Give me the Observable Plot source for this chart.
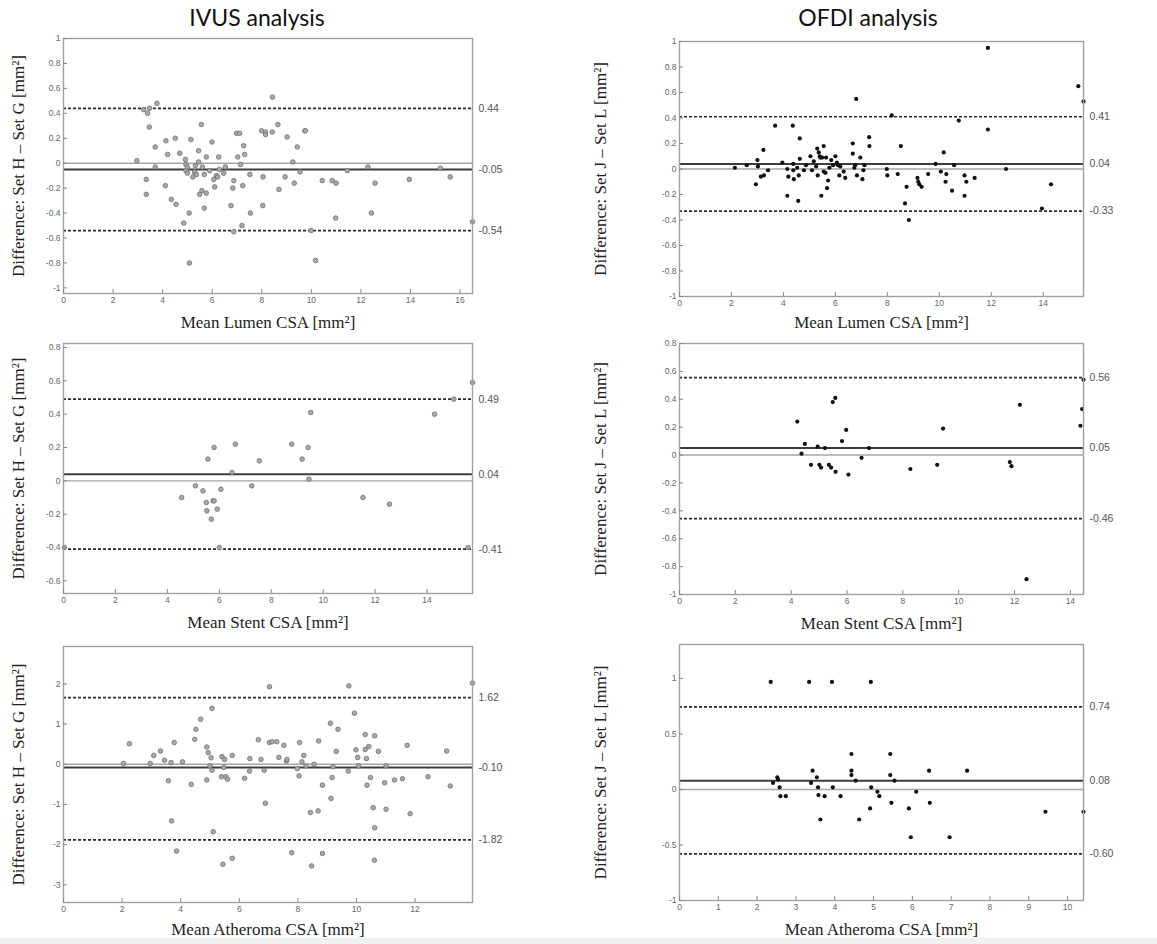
<!DOCTYPE html>
<html><head><meta charset="utf-8">
<script src="https://cdn.jsdelivr.net/npm/d3@7"></script>
<script src="https://cdn.jsdelivr.net/npm/@observablehq/plot@0.6"></script>
<style>
body{margin:0;background:#fff;}
#page{position:relative;width:1157px;height:944px;overflow:hidden;background:#fff;}
.title{position:absolute;font-family:Lato,"Open Sans",sans-serif;font-size:23px;color:#111;transform:translateX(-50%);white-space:nowrap;line-height:1;}
#strip{position:absolute;left:0;top:938px;width:1157px;height:6px;background:#f0f0f0;}
</style></head><body><div id="page">
<div class="title" style="left:257px;top:6px">IVUS analysis</div>
<div class="title" style="left:868px;top:6px">OFDI analysis</div>
<div id="strip"></div>
</div>
<script>
// ---- IVUS lumen ----
const ivusLumenMean = [2.96,3.23,3.39,3.47,3.46,3.77,3.70,3.70,3.34,3.34,4.11,4.13,4.20,4.35,4.51,4.54,4.69,4.85,4.94,4.94,4.92,5.0,5.0,5.07,5.08,5.14,5.22,5.29,5.32,5.36,5.45,5.45,5.49,5.56,5.58,5.60,5.68,5.68,5.76,5.76,5.90,5.99,6.06,6.10,6.17,6.22,6.26,6.29,6.46,6.53,6.76,6.83,6.87,6.87,6.98,7.10,7.03,7.14,7.20,7.23,7.27,7.31,7.52,7.54,7.99,8.15,8.15,8.05,8.04,8.43,8.42,8.65,8.69,8.94,9.02,9.25,9.31,9.43,9.54,9.74,9.76,9.99,10.17,10.44,10.84,11.00,10.98,11.45,12.28,12.42,12.57,13.95,15.2,15.6,16.5];
const ivusLumenDiff = [0.02,0.43,0.40,0.44,0.29,0.48,0.13,-0.03,-0.13,-0.25,-0.18,0.18,0.07,-0.29,0.20,-0.33,0.08,-0.48,-0.01,-0.06,0.03,-0.03,-0.08,-0.40,-0.80,0.19,-0.11,-0.07,-0.02,-0.09,0.10,0.01,-0.25,0.31,-0.22,-0.03,-0.36,-0.09,0.05,-0.24,-0.06,0.17,-0.13,-0.19,-0.10,-0.11,0.05,-0.05,-0.08,-0.03,-0.34,-0.20,-0.14,-0.55,0.24,0.24,0.05,-0.01,-0.50,-0.18,0.14,0.07,-0.09,-0.40,0.26,0.25,0.23,-0.11,-0.34,0.53,0.25,0.31,-0.21,-0.11,0.21,0.01,-0.16,0.13,-0.07,0.26,0.26,-0.54,-0.78,-0.14,-0.14,-0.16,-0.44,-0.06,-0.03,-0.40,-0.16,-0.13,-0.04,-0.11,-0.47];
const ivusLumenLines = [0.44, -0.05, -0.54];
const ivusLumenLabels = ["0.44", "-0.05", "-0.54"];

// ---- OFDI lumen ----
const ofdiLumenMean = [2.13,2.59,2.94,3.00,3.02,3.13,3.23,3.25,3.41,3.68,3.96,4.15,4.15,4.19,4.36,4.38,4.38,4.40,4.53,4.57,4.59,4.63,4.63,4.79,4.87,5.04,5.10,5.17,5.26,5.30,5.32,5.36,5.40,5.42,5.46,5.49,5.55,5.55,5.62,5.64,5.68,5.72,5.77,5.84,5.91,6.00,6.06,6.10,6.15,6.19,6.32,6.38,6.67,6.67,6.73,6.76,6.80,6.83,6.96,7.04,7.08,7.12,7.30,7.31,7.98,8.00,8.17,8.40,8.52,8.68,8.74,8.83,9.16,9.19,9.23,9.32,9.57,9.86,10.06,10.17,10.24,10.27,10.49,10.57,10.75,10.97,10.97,11.04,11.36,11.87,11.87,12.57,13.95,14.3,15.35,15.55];
const ofdiLumenDiff = [0.01,0.03,-0.12,0.07,0.02,-0.06,0.15,-0.05,-0.01,0.34,0.05,-0.21,0.00,-0.06,0.34,0.04,-0.01,-0.08,0.01,-0.25,-0.05,0.24,0.08,-0.01,0.03,0.10,-0.01,0.06,0.02,0.16,-0.05,0.13,0.10,0.09,-0.21,0.09,0.18,-0.02,-0.03,0.09,-0.15,-0.09,0.01,0.07,0.03,0.10,0.05,0.03,-0.05,0.02,-0.02,-0.07,0.20,0.12,0.01,0.03,0.55,-0.05,0.09,-0.08,-0.01,0.03,0.25,0.18,0.00,-0.05,0.42,-0.04,0.18,-0.27,-0.14,-0.40,-0.07,-0.10,-0.12,-0.14,-0.04,0.04,-0.02,0.13,-0.10,-0.04,-0.17,0.03,0.38,-0.05,-0.21,-0.10,-0.07,0.95,0.31,0.00,-0.31,-0.12,0.65,0.53];
const ofdiLumenLines = [0.41, 0.04, -0.33];
const ofdiLumenLabels = ["0.41", "0.04", "-0.33"];

// ---- IVUS stent ----
const ivusStentMean = [0.03,4.55,5.08,5.37,5.50,5.52,5.56,5.69,5.76,5.80,5.80,5.92,6.0,6.06,6.49,6.62,7.25,7.54,8.79,9.19,9.42,9.45,9.52,11.53,12.55,14.29,15.03,15.58,15.75];
const ivusStentDiff = [-0.40,-0.10,-0.03,-0.06,-0.13,-0.18,0.13,-0.23,-0.12,-0.12,0.20,-0.17,-0.40,-0.05,0.05,0.22,-0.03,0.12,0.22,0.13,0.20,0.01,0.41,-0.10,-0.14,0.40,0.49,-0.40,0.59];
const ivusStentLines = [0.49, 0.04, -0.41];
const ivusStentLabels = ["0.49", "0.04", "-0.41"];

// ---- OFDI stent ----
const ofdiStentMean = [4.22,4.37,4.49,4.71,4.95,5.01,5.07,5.21,5.35,5.43,5.49,5.58,5.59,5.82,5.97,6.05,6.52,6.79,8.27,9.23,9.44,11.83,11.89,12.19,12.43,14.36,14.42,14.47];
const ofdiStentDiff = [0.24,0.01,0.08,-0.07,0.06,-0.07,-0.09,0.05,-0.07,-0.09,0.38,0.41,-0.12,0.10,0.18,-0.14,-0.02,0.05,-0.10,-0.07,0.19,-0.05,-0.08,0.36,-0.89,0.21,0.33,0.54];
const ofdiStentLines = [0.555, 0.05, -0.456];
const ofdiStentLabels = ["0.56", "0.05", "-0.46"];

// ---- IVUS atheroma ----
const ivusAthMean = [2.05,2.25,2.96,3.08,3.31,3.45,3.58,3.67,3.69,3.78,3.86,4.06,4.36,4.48,4.52,4.68,4.89,4.89,4.94,5.00,5.04,5.07,5.07,5.11,5.39,5.41,5.44,5.47,5.50,5.54,5.60,5.76,5.76,6.18,6.35,6.36,6.65,6.74,6.85,6.89,7.03,7.03,7.12,7.28,7.35,7.52,7.61,7.63,7.79,7.98,8.04,8.06,8.14,8.20,8.28,8.43,8.47,8.55,8.69,8.71,8.84,8.84,9.11,9.13,9.17,9.20,9.31,9.37,9.72,9.74,9.93,9.98,10.04,10.07,10.30,10.30,10.34,10.36,10.42,10.48,10.57,10.62,10.62,10.61,10.75,10.96,11.01,11.01,11.30,11.57,11.73,11.83,12.44,13.08,13.20,13.96];
const ivusAthDiff = [0.02,0.51,0.02,0.22,0.33,0.10,-0.41,0.04,-1.41,0.54,-2.16,0.06,-0.50,0.62,0.87,1.12,-0.39,0.43,0.29,-0.04,0.16,-0.15,1.39,-1.68,-0.31,0.19,-2.49,-0.08,0.12,-0.31,-0.37,0.22,-2.34,-0.35,-0.17,0.14,0.61,0.12,-0.15,-0.97,1.93,0.54,0.56,0.56,0.17,0.47,0.08,0.12,-2.20,-0.11,-0.29,0.54,0.06,0.22,-0.04,-1.20,-2.53,0.00,-1.16,0.58,-0.52,-2.22,1.02,-0.85,-0.33,-0.06,0.32,0.87,-0.17,1.95,1.27,0.36,0.17,-0.04,0.74,0.37,0.14,-0.52,0.44,-0.33,-1.08,0.71,-1.58,-2.39,0.32,-0.46,-0.04,-1.12,-0.39,-0.36,0.47,-1.23,-0.31,0.33,-0.54,2.02];
const ivusAthLines = [1.66, -0.08, -1.88];
const ivusAthLabels = ["1.62", "-0.10", "-1.82"];

// ---- OFDI atheroma ----
const ofdiAthMean = [2.35,2.41,2.52,2.54,2.58,2.60,2.74,3.34,3.39,3.43,3.54,3.57,3.58,3.63,3.74,3.93,3.95,4.15,4.43,4.43,4.43,4.54,4.63,4.93,4.94,4.91,5.10,5.15,5.43,5.43,5.46,5.54,5.91,5.96,6.10,6.43,6.45,6.96,7.41,9.43,10.41];
const ofdiAthDiff = [0.97,0.06,0.11,0.09,0.02,-0.06,-0.06,0.97,0.06,0.17,0.11,0.02,-0.05,-0.27,-0.06,0.97,0.02,-0.06,0.32,0.17,0.13,0.08,-0.27,0.97,0.02,-0.17,-0.02,-0.06,0.32,0.13,-0.12,0.08,-0.17,-0.43,-0.02,0.17,-0.12,-0.43,0.17,-0.20,-0.20];
const ofdiAthLines = [0.745, 0.08, -0.58];
const ofdiAthLabels = ["0.74", "0.08", "-0.60"];

// ---- tick labels ----
const xTicksLumenIvus = [0,2,4,6,8,10,12,14,16];
const xTicksLumenOfdi = [0,2,4,6,8,10,12,14];
const xTicksStent = [0,2,4,6,8,10,12,14];
const xTicksAthIvus = [0,2,4,6,8,10,12];
const xTicksAthOfdi = [0,1,2,3,4,5,6,7,8,9,10];
const yTicksLumen = [-1,-0.8,-0.6,-0.4,-0.2,0,0.2,0.4,0.6,0.8,1];
const yTicksStentIvus = [-0.6,-0.4,-0.2,0,0.2,0.4,0.6,0.8];
const yTicksStentOfdi = [-1,-0.8,-0.6,-0.4,-0.2,0,0.2,0.4,0.6,0.8];
const yTicksAthIvus = [-3,-2,-1,0,1,2];
const yTicksAthOfdi = [-1,-0.5,0,0.5,1];

const labelIvusY = "Difference: Set H \u2013 Set G [mm\u00B2]";
const labelOfdiY = "Difference: Set J \u2013 Set L [mm\u00B2]";

const page = document.getElementById("page");
const SANS = "'Liberation Sans', Arial, sans-serif";
const SERIF = "'Liberation Serif', 'Times New Roman', serif";

function panel(o) {
  const mL = 90, mR = 60, mT = 10, mB = 45;
  const fw = o.R - o.L, fh = o.B - o.T;
  const data = o.xs.map((x, i) => ({x, y: o.ys[i]}));
  const dotStyle = o.ivus
    ? {r: 2.3, fill: "#a9a9a9", stroke: "#6e6e6e", strokeWidth: 0.8}
    : {r: 2.1, fill: "#111", stroke: "none"};
  const svg = Plot.plot({
    width: fw + mL + mR, height: fh + mT + mB,
    marginLeft: mL, marginRight: mR, marginTop: mT, marginBottom: mB,
    x: {domain: [0, o.xMax]},
    y: {domain: o.yDomain},
    style: {background: "transparent", overflow: "visible"},
    marks: [
      Plot.ruleY([0], {stroke: "#a6a6a6", strokeWidth: 1.4}),
      Plot.ruleY([o.lines[1]], {stroke: "#3c3c3c", strokeWidth: 2}),
      Plot.ruleY([o.lines[0], o.lines[2]], {stroke: "#2a2a2a", strokeWidth: 1.7, strokeDasharray: "3,2"}),
      Plot.dot(data, {x: "x", y: "y", ...dotStyle}),
      Plot.frame({stroke: "#a0a0a0", strokeWidth: 1.4}),
      Plot.tickX(o.xTicks, {x: d => d, stroke: "#888", insetTop: fh - 4}),
      Plot.tickY(o.yTicks, {y: d => d, stroke: "#888", insetRight: fw - 4}),
      Plot.axisX(o.xTicks, {tickSize: 0, tickPadding: 3, fontSize: 8.5, fontFamily: SANS, fill: "#666", tickFormat: d => String(d), label: null}),
      Plot.axisY(o.yTicks, {tickSize: 0, tickPadding: 3, fontSize: 8.5, fontFamily: SANS, fill: "#666", tickFormat: d => String(d), label: null}),
      Plot.text(o.lines, {y: d => d, frameAnchor: "right", dx: 6, textAnchor: "start", text: (d, i) => o.labels[i], fontSize: 10.5, fontFamily: SANS, fill: "#555"}),
      Plot.text([o.xLabel], {frameAnchor: "bottom", dy: o.xdy, textAnchor: "middle", lineAnchor: "middle", text: d => d, fontSize: 17, fontFamily: SERIF, fill: "#222"}),
      Plot.text([o.yLabel], {frameAnchor: "left", dx: o.ydx, rotate: -90, textAnchor: "middle", lineAnchor: "middle", text: d => d, fontSize: 17, fontFamily: SERIF, fill: "#222"})
    ]
  });
  svg.style.position = "absolute";
  svg.style.left = (o.L - mL) + "px";
  svg.style.top = (o.T - mT) + "px";
  page.appendChild(svg);
}

const LEFT = {L: 63, R: 472, ydx: -45};
const RIGHT = {L: 679, R: 1083, ydx: -79};

panel({...LEFT, T: 38, B: 293, xMax: 16.5, yDomain: [-1.045, 1], xs: ivusLumenMean, ys: ivusLumenDiff, lines: ivusLumenLines, labels: ivusLumenLabels, xTicks: xTicksLumenIvus, yTicks: yTicksLumen, xLabel: "Mean Lumen CSA [mm\u00B2]", yLabel: labelIvusY, xdy: 29, ivus: true});
panel({...RIGHT, T: 41, B: 296, xMax: 15.55, yDomain: [-1, 1], xs: ofdiLumenMean, ys: ofdiLumenDiff, lines: ofdiLumenLines, labels: ofdiLumenLabels, xTicks: xTicksLumenOfdi, yTicks: yTicksLumen, xLabel: "Mean Lumen CSA [mm\u00B2]", yLabel: labelOfdiY, xdy: 26, ivus: false});
panel({...LEFT, T: 343, B: 593, xMax: 15.75, yDomain: [-0.676, 0.824], xs: ivusStentMean, ys: ivusStentDiff, lines: ivusStentLines, labels: ivusStentLabels, xTicks: xTicksStent, yTicks: yTicksStentIvus, xLabel: "Mean Stent CSA [mm\u00B2]", yLabel: labelIvusY, xdy: 29, ivus: true});
panel({...RIGHT, T: 343, B: 594, xMax: 14.47, yDomain: [-1, 0.8], xs: ofdiStentMean, ys: ofdiStentDiff, lines: ofdiStentLines, labels: ofdiStentLabels, xTicks: xTicksStent, yTicks: yTicksStentOfdi, xLabel: "Mean Stent CSA [mm\u00B2]", yLabel: labelOfdiY, xdy: 29, ivus: false});
panel({...LEFT, T: 646, B: 902, xMax: 13.96, yDomain: [-3.44, 2.93], xs: ivusAthMean, ys: ivusAthDiff, lines: ivusAthLines, labels: ivusAthLabels, xTicks: xTicksAthIvus, yTicks: yTicksAthIvus, xLabel: "Mean Atheroma CSA [mm\u00B2]", yLabel: labelIvusY, xdy: 27, ivus: true});
panel({...RIGHT, T: 644, B: 900, xMax: 10.41, yDomain: [-1, 1.307], xs: ofdiAthMean, ys: ofdiAthDiff, lines: ofdiAthLines, labels: ofdiAthLabels, xTicks: xTicksAthOfdi, yTicks: yTicksAthOfdi, xLabel: "Mean Atheroma CSA [mm\u00B2]", yLabel: labelOfdiY, xdy: 29, ivus: false});
</script>
</body></html>
